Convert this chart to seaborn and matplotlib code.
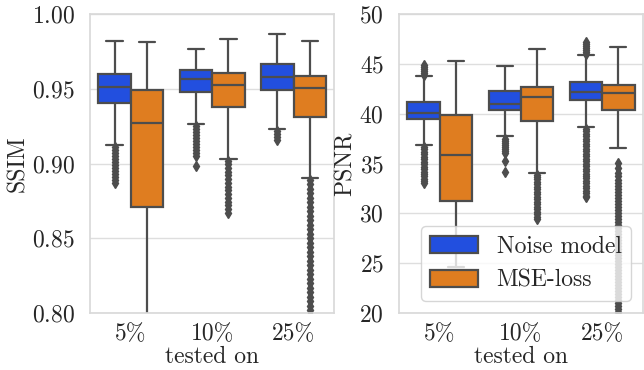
import numpy as np
import pandas as pd
import seaborn as sns
import matplotlib.pyplot as plt

# categories and models
splits = ['5%', '10%', '25%']
models = ['Noise model', 'MSE-loss']

# box summaries: (low whisker, q1, median, q3, high whisker)
ssim_boxes = {
    ('5%', 'Noise model'): (0.9123, 0.9406, 0.9510, 0.9600, 0.9820),
    ('5%', 'MSE-loss'): (0.7600, 0.8708, 0.9268, 0.9491, 0.9813),
    ('10%', 'Noise model'): (0.9263, 0.9480, 0.9567, 0.9625, 0.9764),
    ('10%', 'MSE-loss'): (0.9032, 0.9375, 0.9523, 0.9605, 0.9835),
    ('25%', 'Noise model'): (0.9232, 0.9489, 0.9578, 0.9663, 0.9866),
    ('25%', 'MSE-loss'): (0.8905, 0.9311, 0.9507, 0.9583, 0.9817),
}
psnr_boxes = {
    ('5%', 'Noise model'): (36.89, 39.47, 40.10, 41.20, 43.78),
    ('5%', 'MSE-loss'): (24.65, 31.27, 35.89, 39.84, 45.29),
    ('10%', 'Noise model'): (37.76, 40.40, 41.00, 42.25, 44.78),
    ('10%', 'MSE-loss'): (34.10, 39.25, 41.70, 42.70, 46.49),
    ('25%', 'Noise model'): (38.70, 41.40, 42.18, 43.21, 45.92),
    ('25%', 'MSE-loss'): (36.56, 40.35, 42.05, 42.88, 46.65),
}

# outliers
ssim_fliers = {
    ('5%', 'Noise model'): [0.911, 0.909, 0.907, 0.905, 0.903, 0.901, 0.899, 0.897,
                            0.895, 0.893, 0.891, 0.889, 0.887],
    ('5%', 'MSE-loss'): [],
    ('10%', 'Noise model'): [0.925, 0.923, 0.921, 0.919, 0.917, 0.915, 0.913, 0.911,
                             0.909, 0.907, 0.905, 0.8985],
    ('10%', 'MSE-loss'): [0.902, 0.8995, 0.897, 0.8945, 0.892, 0.8895, 0.887, 0.8845,
                          0.882, 0.8795, 0.877, 0.8745, 0.872, 0.8695, 0.867],
    ('25%', 'Noise model'): [0.922, 0.920, 0.918, 0.916],
    ('25%', 'MSE-loss'): [0.889, 0.886, 0.883, 0.880, 0.877, 0.874, 0.871, 0.868,
                          0.865, 0.862, 0.859, 0.856, 0.853, 0.850, 0.847, 0.844,
                          0.841, 0.838, 0.835, 0.832, 0.829, 0.826, 0.823, 0.820,
                          0.817, 0.814, 0.811, 0.808, 0.805, 0.802, 0.799, 0.796],
}
psnr_fliers = {
    ('5%', 'Noise model'): [43.9, 44.1, 44.3, 44.5, 44.7, 44.9,
                            36.7, 36.45, 36.2, 35.95, 35.7, 35.45, 35.2, 34.95,
                            34.7, 34.45, 34.2, 33.95, 33.7, 33.45, 33.2, 33.0],
    ('5%', 'MSE-loss'): [],
    ('10%', 'Noise model'): [37.5, 37.3, 37.1, 36.9, 36.7, 36.5, 36.3, 36.1, 35.3, 34.2],
    ('10%', 'MSE-loss'): [33.9, 33.65, 33.4, 33.15, 32.9, 32.65, 32.4, 32.15, 31.9,
                          31.65, 31.4, 31.15, 30.9, 30.65, 30.4, 30.15, 29.9, 29.65, 29.4],
    ('25%', 'Noise model'): [46.0, 46.2, 46.4, 46.6, 46.8, 47.0, 47.2,
                             38.5, 38.25, 38.0, 37.75, 37.5, 37.25, 37.0, 36.75,
                             36.5, 36.25, 36.0, 35.75, 35.5, 35.25, 35.0, 34.75,
                             34.5, 34.25, 34.0, 33.75, 33.5, 33.25, 33.0, 32.75,
                             32.5, 32.25, 32.0, 31.75, 31.6],
    ('25%', 'MSE-loss'): [35.1, 34.6, 34.1, 33.7, 33.3, 33.0, 32.7, 32.4, 32.1, 31.8,
                          31.5, 31.2, 30.9, 30.6, 30.3, 30.0, 29.7, 29.4, 29.1, 28.8,
                          28.5, 28.2, 27.9, 27.6, 27.3, 27.0, 26.7, 26.4, 26.1, 25.8,
                          25.5, 25.2, 24.9, 24.6, 24.3, 24.0, 23.7, 23.4, 23.1, 22.8,
                          22.5, 22.2, 21.9, 21.6, 21.3, 21.0, 20.7, 20.4, 20.1, 19.8],
}


def build_df(boxes, fliers, name):
    # repeat the quartile values so that the quartiles come out as read
    rows = []
    rep = 100
    for key, (lo, q1, med, q3, hi) in boxes.items():
        vals = [lo, hi] + fliers[key] + [q1] * rep + [med] * rep + [q3] * rep
        for v in vals:
            rows.append({'tested on': key[0], 'model': key[1], name: v})
    return pd.DataFrame(rows)


ssim_df = build_df(ssim_boxes, ssim_fliers, 'SSIM')
psnr_df = build_df(psnr_boxes, psnr_fliers, 'PSNR')

sns.set_theme(style='whitegrid', palette='bright',
              rc={'grid.color': '0.87', 'axes.edgecolor': '0.85'})
plt.rcParams['font.family'] = ['serif']
plt.rcParams['font.serif'] = ['cmr10', 'DejaVu Serif']
plt.rcParams['axes.formatter.use_mathtext'] = True
plt.rcParams['font.size'] = 17

fig = plt.figure(figsize=(6.44, 3.70), dpi=100)
ax1 = fig.add_axes([0.140, 0.154, 0.379, 0.808])
ax2 = fig.add_axes([0.620, 0.154, 0.378, 0.808])

box_kw = dict(x='tested on', hue='model', order=splits, hue_order=models,
              linewidth=1.6, linecolor='0.3', fliersize=5,
              flierprops=dict(marker='d', markerfacecolor='0.3',
                              markeredgecolor='0.3'))
sns.boxplot(data=ssim_df, y='SSIM', ax=ax1, legend=False, **box_kw)
sns.boxplot(data=psnr_df, y='PSNR', ax=ax2, **box_kw)

ax1.set_ylim(0.80, 1.00)
ax1.set_yticks([0.80, 0.85, 0.90, 0.95, 1.00])
ax2.set_ylim(20, 50)
ax2.set_yticks([20, 25, 30, 35, 40, 45, 50])

for ax in (ax1, ax2):
    ax.tick_params(axis='y', labelsize=17, pad=5)
    ax.tick_params(axis='x', labelsize=17, pad=1)
    ax.set_xlabel('tested on', fontsize=17, labelpad=1)
    ax.set_ylabel(ax.get_ylabel(), fontsize=17, labelpad=2)

ax2.legend(title=None, loc='lower right', fontsize=17)

plt.savefig('out.png', dpi=100)
